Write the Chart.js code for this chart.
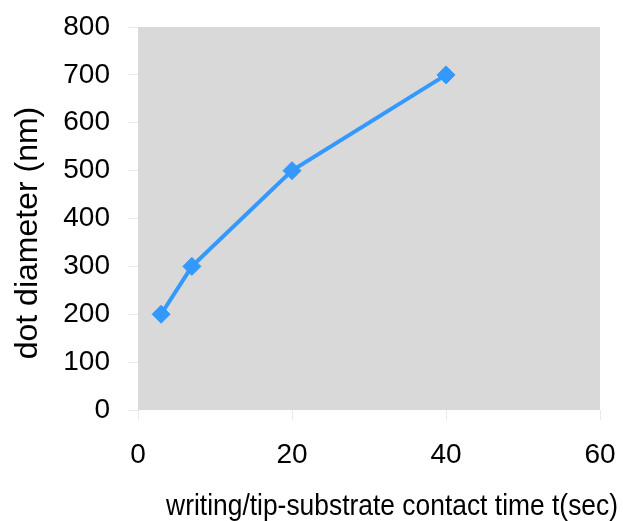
<!DOCTYPE html>
<html>
<head>
<meta charset="utf-8">
<script src="https://cdn.jsdelivr.net/npm/chart.js@4/dist/chart.umd.min.js"></script>
<style>
  html, body { margin: 0; padding: 0; background: #fff; }
  #wrap { width: 623px; height: 521px; position: relative; }
</style>
</head>
<body>
<div id="wrap"><canvas id="c" width="623" height="521"></canvas></div>
<script>
// Contact time (s) vs. resulting dot diameter (nm)
const contactTime = [3, 7, 20, 40];
const dotDiameter = [200, 300, 500, 700];
const xTicks = [0, 20, 40, 60];
const yTicks = [0, 100, 200, 300, 400, 500, 600, 700, 800];
const xTitle = 'writing/tip-substrate contact time t(sec)';
const yTitle = 'dot diameter (nm)';

const FONT = '"Liberation Sans", Arial, sans-serif';

// Grey plot area plus the two axis titles
const plotDecor = {
  id: 'plotDecor',
  beforeDraw(chart) {
    const { ctx, chartArea: a } = chart;
    ctx.save();
    ctx.fillStyle = '#d9d9d9';
    ctx.fillRect(a.left, a.top, a.right - a.left, a.bottom - a.top);
    ctx.restore();
  },
  afterDraw(chart) {
    const { ctx, chartArea: a } = chart;
    ctx.save();
    ctx.fillStyle = '#000';
    // x title: condensed horizontally, right edge just past the plot
    ctx.font = '30px ' + FONT;
    ctx.textBaseline = 'alphabetic';
    ctx.textAlign = 'right';
    ctx.save();
    ctx.translate(a.right + 18, 515);
    ctx.scale(0.88, 1);
    ctx.fillText(xTitle, 0, 0);
    ctx.restore();
    // y title, rotated
    ctx.font = '32px ' + FONT;
    ctx.textBaseline = 'middle';
    ctx.translate(28, 233);
    ctx.rotate(-Math.PI / 2);
    ctx.textAlign = 'center';
    ctx.fillText(yTitle, 0, 0);
    ctx.restore();
  }
};

// keep tick labels from pushing the plot area inwards
function fixedFit(size) {
  return function (s) {
    if (s.isHorizontal()) s.height = size; else s.width = size;
    s.paddingTop = s.paddingBottom = s.paddingLeft = s.paddingRight = 0;
  };
}

const blue = '#3399ff';

new Chart(document.getElementById('c'), {
  type: 'scatter',
  data: {
    datasets: [{
      data: contactTime.map((x, i) => ({ x, y: dotDiameter[i] })),
      showLine: true,
      borderColor: blue,
      backgroundColor: blue,
      borderWidth: 4,
      pointStyle: 'rectRot',
      pointRadius: 9,
      pointHoverRadius: 9,
      pointBorderWidth: 1,
      pointBorderColor: blue,
      pointBackgroundColor: blue
    }]
  },
  options: {
    responsive: false,
    animation: false,
    events: [],
    layout: { padding: { left: 0, top: 27, right: 23, bottom: 0 } },
    plugins: { legend: { display: false }, tooltip: { enabled: false } },
    scales: {
      x: {
        type: 'linear',
        min: 0, max: 60,
        afterBuildTicks(s) { s.ticks = xTicks.map(v => ({ value: v })); },
        afterFit: fixedFit(111),
        border: { display: false },
        grid: { drawOnChartArea: false, drawTicks: true, tickLength: 10, tickColor: '#e9e9e9', lineWidth: 1 },
        ticks: { color: '#000', padding: 18, font: { family: FONT, size: 28 } }
      },
      y: {
        type: 'linear',
        min: 0, max: 800,
        afterBuildTicks(s) { s.ticks = yTicks.map(v => ({ value: v })); },
        afterFit: fixedFit(138),
        border: { display: false },
        grid: { drawOnChartArea: false, drawTicks: true, tickLength: 10, tickColor: '#e9e9e9', lineWidth: 1 },
        ticks: { color: '#000', padding: 18, font: { family: FONT, size: 28 } }
      }
    }
  },
  plugins: [plotDecor]
});
</script>
</body>
</html>
